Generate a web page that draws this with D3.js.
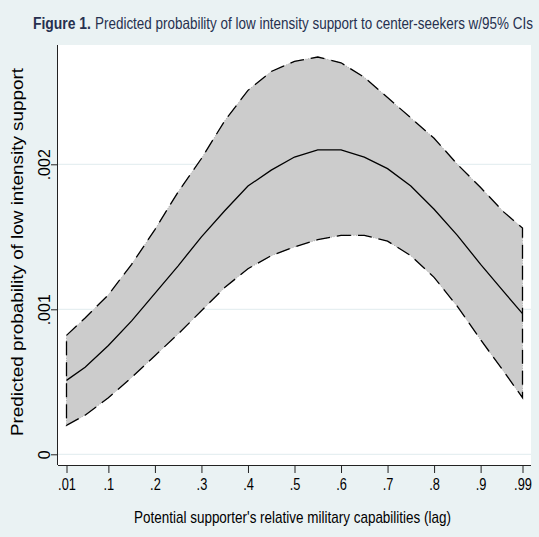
<!DOCTYPE html>
<html>
<head>
<meta charset="utf-8">
<script src="https://cdn.jsdelivr.net/npm/d3@7"></script>
<style>
  html, body { margin: 0; padding: 0; background: #eaf2f3; }
  svg { display: block; }
  text { font-family: 'Liberation Sans Narrow', 'Arial Narrow', 'Liberation Sans', Arial, sans-serif; }
</style>
</head>
<body>
<svg id="chart" width="539" height="537"></svg>
<script>
// Relative military capabilities of the potential supporter (lagged)
const capability = [0.01, 0.05, 0.10, 0.15, 0.20, 0.25, 0.30, 0.35, 0.40, 0.45, 0.50,
                    0.55, 0.60, 0.65, 0.70, 0.75, 0.80, 0.85, 0.90, 0.95, 0.99];
// Predicted probability of low intensity support
const predicted = [0.00051, 0.00060, 0.00075, 0.00092, 0.00111, 0.00130, 0.00150, 0.00168, 0.00185, 0.00196, 0.00205,
                   0.00210, 0.00210, 0.00205, 0.00197, 0.00185, 0.00169, 0.00151, 0.00131, 0.00112, 0.00097];
// 95% confidence bounds
const upperCI = [0.00082, 0.00094, 0.00110, 0.00131, 0.00155, 0.00181, 0.00204, 0.00230, 0.00251, 0.00264, 0.00271,
                 0.00274, 0.00270, 0.00260, 0.00246, 0.00232, 0.00218, 0.00200, 0.00184, 0.00167, 0.00156];
const lowerCI = [0.00020, 0.00027, 0.00039, 0.00053, 0.00068, 0.00083, 0.00099, 0.00115, 0.00128, 0.00137, 0.00143,
                 0.00148, 0.00151, 0.00151, 0.00147, 0.00137, 0.00122, 0.00102, 0.00079, 0.00057, 0.00039];

const xTicks = [0.01, 0.1, 0.2, 0.3, 0.4, 0.5, 0.6, 0.7, 0.8, 0.9, 0.99];
const xTickLabels = [".01", ".1", ".2", ".3", ".4", ".5", ".6", ".7", ".8", ".9", ".99"];
const yTicks = [0, 0.001, 0.002];
const yTickLabels = ["0", ".001", ".002"];

const titleBold = "Figure 1.";
const titleRest = "Predicted probability of low intensity support to center-seekers w/95% CIs";
const xTitle = "Potential supporter's relative military capabilities (lag)";
const yTitle = "Predicted probability of low intensity support";

const rows = capability.map((c, i) => ({ c, p: predicted[i], lo: lowerCI[i], hi: upperCI[i] }));

const svg = d3.select("#chart");
const plot = { left: 58, right: 531, top: 45, bottom: 465 };

const x = d3.scaleLinear().domain([0.01, 0.99]).range([66.5, 522.5]);
const y = d3.scaleLinear().domain([0, 0.002]).range([454.3, 164.3]);

// squeeze a label horizontally so it reads like a condensed face
function condense(sel, factor) {
  sel.each(function () {
    const w = this.getComputedTextLength();
    d3.select(this).attr("textLength", w * factor).attr("lengthAdjust", "spacingAndGlyphs");
  });
}

// place a text at (px, py) and scale it horizontally to a target width
function fitText(sel, px, py, width) {
  sel.each(function () {
    const w = this.getComputedTextLength();
    d3.select(this).attr("transform", `translate(${px},${py}) scale(${width / w},1)`);
  });
}

// graph region and plot region
svg.append("rect").attr("width", 539).attr("height", 537).attr("fill", "#eaf2f3");
svg.append("rect")
  .attr("x", plot.left).attr("y", plot.top)
  .attr("width", plot.right - plot.left).attr("height", plot.bottom - plot.top)
  .attr("fill", "#ffffff");

// horizontal grid
svg.append("g").selectAll("line").data(yTicks).join("line")
  .attr("x1", plot.left).attr("x2", plot.right)
  .attr("y1", d => y(d)).attr("y2", d => y(d))
  .attr("stroke", "#e6eff1").attr("stroke-width", 1.2);

// confidence band
const band = d3.area().x(d => x(d.c)).y0(d => y(d.lo)).y1(d => y(d.hi));
svg.append("path").datum(rows).attr("d", band)
  .attr("fill", "#cccccc").attr("stroke", "none");

// band outline: upper edge, right end, lower edge back, left end
const outlinePts = rows.map(d => [x(d.c), y(d.hi)])
  .concat(rows.slice().reverse().map(d => [x(d.c), y(d.lo)]));
const outline = d3.line().curve(d3.curveLinearClosed);
svg.append("path").attr("d", outline(outlinePts))
  .attr("fill", "none").attr("stroke", "#9a9a9a").attr("stroke-width", 0.8)
  .attr("stroke-dasharray", "1,1.5");
svg.append("path").attr("d", outline(outlinePts))
  .attr("fill", "none").attr("stroke", "#000").attr("stroke-width", 1.3)
  .attr("stroke-dasharray", "14,7");

// predicted probability line
svg.append("path").datum(rows)
  .attr("d", d3.line().x(d => x(d.c)).y(d => y(d.p)))
  .attr("fill", "none").attr("stroke", "#000").attr("stroke-width", 1.3);

// x axis
const xAxis = svg.append("g").attr("transform", `translate(0,${plot.bottom})`)
  .call(d3.axisBottom(x).tickValues(xTicks)
    .tickFormat((d, i) => xTickLabels[i]).tickSize(8).tickSizeOuter(0).tickPadding(6));
xAxis.select(".domain").attr("d", `M${plot.left},0.5H${plot.right}`).attr("stroke", "#222");
xAxis.selectAll(".tick line").attr("stroke", "#222");
xAxis.selectAll(".tick text").attr("font-size", 16).attr("fill", "#000")
  .attr("font-family", "'Liberation Sans Narrow', 'Arial Narrow', 'Liberation Sans', Arial, sans-serif")
  .call(condense, 0.8);

// y axis with vertical tick labels
const yAxis = svg.append("g").attr("transform", `translate(${plot.left},0)`)
  .call(d3.axisLeft(y).tickValues(yTicks)
    .tickFormat((d, i) => yTickLabels[i]).tickSize(7).tickSizeOuter(0));
yAxis.select(".domain").attr("d", `M-0.5,${plot.top}V${plot.bottom}`).attr("stroke", "#222");
yAxis.selectAll(".tick line").attr("stroke", "#222");
yAxis.selectAll(".tick text")
  .attr("x", null).attr("dy", null)
  .attr("transform", "translate(-8,0) rotate(-90)")
  .attr("text-anchor", "middle").attr("font-size", 16).attr("fill", "#000")
  .attr("font-family", "'Liberation Sans Narrow', 'Arial Narrow', 'Liberation Sans', Arial, sans-serif");

// axis titles
svg.append("text")
  .attr("x", 292.5).attr("y", 523)
  .attr("text-anchor", "middle").attr("font-size", 17).attr("fill", "#000")
  .attr("textLength", 317).attr("lengthAdjust", "spacingAndGlyphs")
  .text(xTitle);

svg.append("text")
  .attr("transform", "translate(23,252) rotate(-90)")
  .attr("text-anchor", "middle").attr("font-size", 16).attr("fill", "#000")
  .attr("textLength", 368).attr("lengthAdjust", "spacingAndGlyphs")
  .text(yTitle);

// figure title
svg.append("text")
  .attr("font-size", 16.5).attr("font-weight", "bold").attr("fill", "#26304f")
  .text(titleBold)
  .call(fitText, 33, 28.5, 58);
svg.append("text")
  .attr("font-size", 16.5).attr("fill", "#26304f")
  .text(titleRest)
  .call(fitText, 95, 28.5, 438);
</script>
</body>
</html>
